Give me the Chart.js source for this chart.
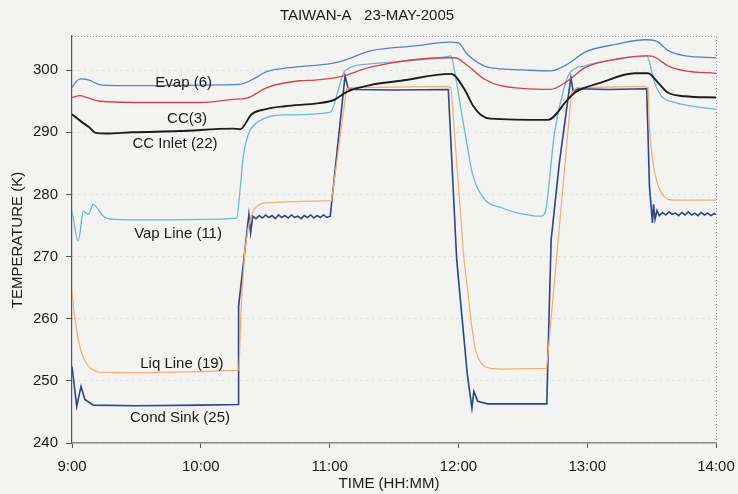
<!DOCTYPE html>
<html>
<head>
<meta charset="utf-8">
<script src="https://cdn.jsdelivr.net/npm/chart.js@4.4.1/dist/chart.umd.min.js"></script>
<style>
  html, body { margin: 0; padding: 0; background: #f3f3f1; }
  canvas { display: block; }
</style>
</head>
<body>
<canvas id="tempChart" width="738" height="494"></canvas>
<script>
// minutes after 9:00 and temperature (K) for each sensor
var evapTime = [0, 2, 4, 8, 11, 14, 30, 60, 78, 84, 91, 101, 121, 126, 139, 160, 176, 180, 184, 192, 200, 212, 223, 231, 239, 254, 267, 272, 278, 286, 300];
var evapTemp = [297.2, 298.2, 298.6, 298.4, 297.9, 297.6, 297.5, 297.6, 297.7, 298.5, 299.8, 300.4, 301.1, 301.5, 303.1, 303.9, 304.5, 304.4, 302.6, 300.7, 300.2, 300.0, 299.9, 301.0, 302.9, 304.2, 304.9, 304.7, 303.1, 302.3, 302.0];

var ccTime = [0, 3.7, 7, 13, 36, 60, 75, 81.5, 90.8, 106, 113, 125.6, 139, 175, 178.4, 184.4, 192.4, 199.8, 223, 231, 239, 254, 268, 271.5, 277.6, 285.5, 300];
var ccTemp = [295.6, 295.9, 295.6, 295.0, 294.8, 294.8, 295.3, 295.5, 297.2, 298.3, 298.4, 299.0, 300.5, 302.0, 302.0, 300.7, 298.5, 297.5, 296.9, 298.3, 300.4, 301.8, 302.3, 302.1, 300.7, 299.9, 299.5];

var ccInletTime = [0, 4, 8, 11, 16, 28, 50, 75, 78.3, 83.7, 89.9, 99.2, 115, 122, 128.5, 138.8, 153.2, 176.5, 178.4, 183, 187, 190.5, 195, 221.7, 231, 234.3, 246.4, 262.2, 268.3, 273, 277.6, 285.5, 300];
var ccInletTemp = [292.9, 291.8, 290.8, 289.9, 289.8, 290.0, 290.2, 290.6, 290.5, 292.9, 293.7, 294.2, 294.7, 295.2, 296.6, 297.6, 298.3, 299.4, 299.1, 296.8, 294.2, 292.8, 292.2, 292.0, 295.3, 296.4, 298.0, 299.5, 299.5, 298.0, 296.4, 295.8, 295.6];

var vapTime = [0, 2.9, 5.3, 7.6, 9.9, 14.6, 19.2, 40, 60, 76.7, 78.3, 79.8, 82.1, 85.2, 89.9, 99.2, 120.2, 127.2, 138.8, 175.1, 176.5, 178.2, 181.2, 184.4, 186.2, 192.2, 199.8, 207.7, 218.4, 220.3, 224.8, 229.5, 232, 238.9, 254.3, 267.7, 271.4, 274.4, 280.7, 300];
var vapTemp = [277.3, 272.5, 277.3, 276.8, 278.4, 276.5, 276.0, 275.9, 276.0, 276.2, 280.8, 286.2, 289.7, 291.3, 292.3, 292.8, 293.2, 299.9, 301.0, 302.2, 302.3, 299.9, 293.7, 287.3, 283.8, 279.2, 277.9, 277.0, 276.5, 277.0, 290.0, 297.5, 299.6, 300.7, 301.8, 302.3, 298.0, 295.9, 294.8, 293.7];

var liqTime = [0, 1, 2, 3, 4, 5, 6, 7.5, 9, 12, 30, 60, 76.7, 77.8, 78.8, 80.5, 82, 83.5, 85, 87, 89, 100, 120.9, 127.9, 130, 175, 176.6, 182.6, 184.5, 186, 187.6, 189, 190.5, 192.2, 195, 199.8, 221.1, 232.6, 235, 266.7, 268.4, 269.1, 270.3, 271.4, 272.8, 274.5, 276, 277.6, 280, 300];
var liqTemp = [264.5, 261.0, 258.5, 256.5, 255.0, 254.0, 253.2, 252.4, 251.9, 251.4, 251.3, 251.5, 251.7, 251.8, 262.0, 271.0, 274.5, 276.6, 277.7, 278.3, 278.6, 278.8, 279.0, 297.0, 297.2, 297.4, 297.2, 269.5, 264.0, 259.3, 255.5, 253.8, 252.9, 252.3, 252.0, 251.9, 252.0, 296.2, 297.2, 297.4, 297.2, 290.0, 286.0, 283.5, 281.6, 280.3, 279.6, 279.2, 279.1, 279.1];

var sinkTime = [0, 2.2, 4.2, 6, 9.9, 30, 60, 77.4, 77.6, 82.4, 83.2, 84.2, 85.7, 87.2, 88.7, 90.2, 91.7, 93.2, 94.7, 96.2, 97.7, 99.2, 100.7, 102.2, 103.7, 105.2, 106.7, 108.2, 109.7, 111.2, 112.7, 114.2, 115.7, 117.2, 118.7, 120.3, 127.2, 128.7, 132, 150, 175.3, 179.2, 184.1, 186.3, 187.2, 189, 193.6, 221.2, 221.8, 223.2, 227, 231, 232.4, 233.5, 235.7, 250, 267.7, 268.3, 269, 270.4, 270.9, 271.6, 272.5, 273.6, 275.1, 276.6, 278.1, 279.6, 281.1, 282.6, 284.1, 285.6, 287.1, 288.6, 290.1, 291.6, 293.1, 294.6, 296.1, 297.6, 299.1, 300];
var sinkTemp = [252.3, 245.9, 249.1, 247.0, 246.1, 246.0, 246.1, 246.2, 262.0, 276.8, 273.8, 276.5, 276.1, 276.6, 276.2, 276.7, 276.3, 276.6, 276.1, 276.7, 276.3, 276.6, 276.2, 276.7, 276.3, 276.5, 276.1, 276.6, 276.3, 276.7, 276.2, 276.6, 276.3, 276.7, 276.3, 276.5, 299.1, 297.0, 296.9, 296.8, 296.9, 269.5, 251.2, 245.6, 248.3, 246.7, 246.3, 246.3, 255.0, 272.7, 285.0, 295.3, 298.8, 296.5, 297.0, 296.9, 297.0, 290.0, 281.3, 275.4, 278.4, 276.0, 277.4, 276.6, 277.1, 276.7, 277.2, 276.8, 277.0, 276.6, 277.1, 276.7, 277.2, 276.7, 277.0, 276.6, 277.1, 276.7, 277.0, 276.6, 276.9, 276.8];

var seriesNames = ['Evap (6)', 'CC(3)', 'CC Inlet (22)', 'Vap Line (11)', 'Liq Line (19)', 'Cond Sink (25)'];
var seriesColors = ['#5a7fc4', '#d8404a', '#1c1c1c', '#6cb8cf', '#f3ad70', '#2e4585'];
var seriesWidths = [1.3, 1.3, 1.9, 1.3, 1.2, 1.6];
var seriesSmooth = [true, true, true, true, false, false];

// where each series name is written (minutes, K)
var labelTime = [52, 53.6, 48, 49.4, 51.2, 50.3];
var labelTemp = [298.0, 292.1, 288.2, 273.7, 252.8, 244.1];

var yTicks = [240, 250, 260, 270, 280, 290, 300];
var xTicks = [0, 60, 120, 180, 240, 300];

var FONT = '"Liberation Sans", Arial, sans-serif';

function toPoints(times, temps) {
    return times.map(function (t, i) { return { x: t, y: temps[i] }; });
}

function hhmm(minutes) {
    var h = 9 + Math.floor(minutes / 60);
    var m = minutes % 60;
    return h + ':' + (m < 10 ? '0' + m : m);
}

var allTimes = [evapTime, ccTime, ccInletTime, vapTime, liqTime, sinkTime];
var allTemps = [evapTemp, ccTemp, ccInletTemp, vapTemp, liqTemp, sinkTemp];

var datasets = seriesNames.map(function (name, i) {
    return {
        label: name,
        data: toPoints(allTimes[i], allTemps[i]),
        borderColor: seriesColors[i],
        borderWidth: seriesWidths[i],
        pointRadius: 0,
        fill: false,
        tension: 0,
        cubicInterpolationMode: seriesSmooth[i] ? 'monotone' : 'default'
    };
});

// titles, frame and series names
var decorations = {
    id: 'decorations',
    beforeDatasetsDraw: function (chart) {
        var ctx = chart.ctx;
        var a = chart.chartArea;
        ctx.save();
        ctx.strokeStyle = '#9a9a9a';
        ctx.lineWidth = 1;
        ctx.setLineDash([1, 2]);
        ctx.beginPath();
        ctx.moveTo(a.left, a.top + 0.5);
        ctx.lineTo(a.right + 0.5, a.top + 0.5);
        ctx.lineTo(a.right + 0.5, a.bottom);
        ctx.stroke();
        ctx.restore();
    },
    afterDatasetsDraw: function (chart) {
        var ctx = chart.ctx;
        var xs = chart.scales.x;
        var ys = chart.scales.y;
        ctx.save();
        ctx.fillStyle = '#1a1a1a';
        ctx.font = '15px ' + FONT;
        ctx.textAlign = 'center';
        ctx.textBaseline = 'middle';
        for (var i = 0; i < seriesNames.length; i++) {
            ctx.fillText(seriesNames[i], xs.getPixelForValue(labelTime[i]), ys.getPixelForValue(labelTemp[i]));
        }
        ctx.restore();
    },
    afterDraw: function (chart) {
        var ctx = chart.ctx;
        ctx.save();
        ctx.fillStyle = '#1a1a1a';
        ctx.font = '15px ' + FONT;
        ctx.textAlign = 'center';
        ctx.textBaseline = 'middle';
        ctx.fillText('TAIWAN-A   23-MAY-2005', 367, 16);
        ctx.fillText('TIME (HH:MM)', 389, 484);
        ctx.translate(18, 240);
        ctx.rotate(-Math.PI / 2);
        ctx.fillText('TEMPERATURE (K)', 0, 0);
        ctx.restore();
    }
};

var ctx = document.getElementById('tempChart').getContext('2d');
var tempChart = new Chart(ctx, {
    type: 'line',
    data: { datasets: datasets },
    options: {
        responsive: false,
        animation: false,
        devicePixelRatio: 1,
        layout: { padding: { top: 36, right: 22, left: 0, bottom: 0 } },
        plugins: {
            legend: { display: false },
            tooltip: { enabled: false },
            title: { display: false }
        },
        scales: {
            x: {
                type: 'linear',
                min: 0,
                max: 300,
                afterFit: function (scale) {
                    scale.height = 51;
                    scale.paddingLeft = 0;
                    scale.paddingRight = 0;
                },
                afterBuildTicks: function (scale) {
                    scale.ticks = xTicks.map(function (v) { return { value: v }; });
                },
                ticks: {
                    callback: function (v) { return hhmm(v); },
                    color: '#1a1a1a',
                    font: { family: FONT, size: 15 },
                    padding: 10,
                    maxRotation: 0
                },
                grid: {
                    drawOnChartArea: false,
                    drawTicks: true,
                    tickLength: 5,
                    tickColor: '#555'
                },
                border: { display: true, color: '#8a8a8a', width: 1.5 }
            },
            y: {
                type: 'linear',
                min: 240,
                max: 305.5,
                afterFit: function (scale) {
                    scale.width = 72;
                    scale.paddingTop = 0;
                    scale.paddingBottom = 0;
                },
                afterBuildTicks: function (scale) {
                    scale.ticks = yTicks.map(function (v) { return { value: v }; });
                },
                ticks: {
                    color: '#1a1a1a',
                    font: { family: FONT, size: 15 },
                    padding: 8
                },
                grid: {
                    color: '#dcdcdc',
                    lineWidth: 1,
                    tickLength: 6,
                    tickColor: '#555'
                },
                border: { display: true, color: '#555', width: 1.2, dash: [2, 4] }
            }
        }
    },
    plugins: [decorations]
});
</script>
</body>
</html>
